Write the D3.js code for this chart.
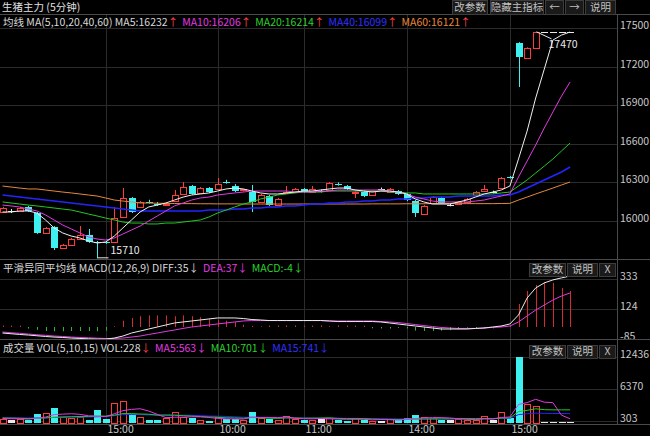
<!DOCTYPE html>
<html>
<head>
<meta charset="utf-8">
<script src="https://cdn.jsdelivr.net/npm/d3@7"></script>
<style>
  body { margin: 0; background: #000; }
  svg { display: block; font-family: "Noto Sans CJK SC", "Noto Sans", sans-serif; }
</style>
</head>
<body>
<svg id="chart" width="650" height="436"></svg>
<script>
// 5-minute bars, price in yuan/ton
const opens = [16070,16078,16078,16109,16062,15907,15953,15790,15814,15860,
  15891,15840,15835,15837,16031,16179,16109,16150,16134,16130,
  16155,16210,16272,16218,16256,16249,16305,16272,16238,16225,
  16148,16194,16124,16215,16225,16249,16225,16233,16241,16290,
  16272,16222,16225,16202,16249,16225,16233,16210,16155,16054,
  16140,16179,16124,16132,16148,16202,16233,16225,16256,16345,
  17383,17266,17344,17470,17470,17470,17470];
const highs = [16110,16093,16109,16117,16070,15953,15960,15822,15868,15961,
  15938,15845,15845,16109,16256,16186,16155,16165,16148,16140,
  16241,16303,16280,16264,16264,16334,16320,16287,16250,16280,
  16210,16202,16179,16272,16256,16256,16272,16245,16303,16300,
  16280,16230,16233,16241,16260,16256,16241,16218,16163,16124,
  16194,16186,16135,16155,16179,16233,16280,16236,16342,16350,
  17390,17350,17470,17470,17470,17470,17470];
const lows = [16062,16062,16070,16070,15900,15900,15775,15783,15806,15855,
  15830,15710,15822,15830,16025,16062,16101,16135,16117,16124,
  16150,16205,16205,16212,16218,16241,16290,16225,16230,16070,
  16140,16117,16117,16210,16218,16218,16218,16222,16233,16275,
  16241,16179,16186,16194,16238,16218,16202,16155,16031,16047,
  16132,16132,16114,16124,16140,16194,16225,16214,16249,16330,
  17041,17260,17340,17470,17470,17470,17470];
const closes = [16101,16078,16101,16078,15907,15946,15790,15814,15860,15891,
  15837,15835,15828,16023,16179,16070,16148,16148,16130,16134,
  16202,16264,16210,16256,16225,16287,16300,16233,16245,16148,
  16202,16124,16171,16225,16249,16225,16249,16233,16295,16287,
  16249,16226,16194,16233,16249,16249,16210,16163,16062,16117,
  16186,16140,16124,16148,16171,16225,16245,16225,16334,16335,
  17274,17344,17470,17470,17470,17470,17470];

const ma5 = [16070,16070,16078,16078,16062,16008,15946,15907,15883,15868,
  15845,15829,15837,15883,15946,16008,16070,16109,16124,16140,
  16163,16186,16202,16210,16218,16233,16249,16256,16249,16233,
  16218,16210,16210,16218,16225,16233,16233,16241,16249,16256,
  16256,16241,16233,16225,16233,16233,16225,16210,16171,16148,
  16132,16132,16132,16148,16163,16186,16210,16225,16241,16272,
  16482,16699,16956,17181,17406,17445,17469];
const ma10 = [16124,16117,16109,16093,16078,16047,16008,15969,15938,15907,
  15876,15860,15852,15868,15899,15930,15961,16000,16039,16078,
  16117,16140,16163,16179,16186,16202,16210,16218,16225,16233,
  16233,16233,16233,16233,16225,16225,16225,16233,16233,16241,
  16241,16241,16241,16241,16241,16233,16225,16210,16186,16171,
  16155,16148,16148,16148,16148,16155,16163,16179,16194,16210,
  16342,16466,16591,16723,16847,16971,17080];
const ma20 = [16148,16140,16132,16124,16117,16109,16101,16093,16085,16070,
  16054,16039,16023,16008,15992,15984,15984,15977,15977,15984,
  15984,15992,16000,16008,16031,16062,16085,16109,16132,16148,
  16171,16186,16202,16210,16218,16225,16225,16225,16233,16233,
  16233,16233,16233,16233,16233,16225,16225,16218,16218,16210,
  16210,16210,16210,16210,16210,16210,16210,16210,16218,16225,
  16272,16319,16373,16427,16482,16544,16606];
const ma40 = [16202,16194,16186,16179,16171,16163,16155,16148,16140,16132,
  16124,16117,16109,16101,16093,16085,16078,16078,16078,16078,
  16078,16078,16078,16078,16085,16085,16085,16093,16093,16101,
  16101,16109,16109,16117,16117,16124,16132,16132,16140,16140,
  16148,16148,16155,16155,16163,16163,16171,16171,16179,16179,
  16186,16186,16186,16194,16194,16194,16194,16194,16202,16202,
  16225,16256,16287,16319,16350,16381,16420];
const ma60 = [16272,16264,16256,16249,16249,16241,16233,16225,16218,16210,
  16202,16194,16179,16163,16155,16148,16140,16140,16138,16137,
  16136,16135,16135,16134,16134,16133,16133,16133,16132,16132,
  16132,16132,16132,16132,16132,16132,16132,16132,16132,16132,
  16132,16132,16132,16133,16133,16133,16133,16134,16134,16134,
  16135,16135,16135,16135,16135,16135,16135,16135,16136,16137,
  16163,16186,16210,16233,16256,16280,16303];

const diff = [-42,-47,-52,-56,-61,-66,-70,-73,-77,-80,
  -82,-84,-84,-77,-63,-42,-28,-14,0,14,
  28,35,42,49,56,63,63,63,59,52,
  49,45,45,45,45,45,45,45,42,38,
  38,38,38,38,35,28,21,14,7,0,
  -7,-14,-14,-14,-14,-10,-7,0,7,21,
  84,202,272,307,328,342,355];
const dea = [-35,-40,-44,-49,-54,-58,-63,-66,-70,-73,
  -75,-78,-80,-80,-77,-70,-63,-52,-42,-31,
  -21,-10,0,7,14,21,28,35,42,45,
  45,45,45,45,45,45,45,45,42,42,
  42,42,42,42,38,35,31,24,17,10,
  3,-3,-7,-10,-10,-10,-7,-3,0,7,
  35,77,118,153,188,216,237];
const macd = [3,3,2,-4,-20,-28,-30,-30,-28,-28,
  -28,-30,-25,5,44,63,75,81,81,81,
  75,81,75,68,58,51,44,35,16,8,
  5,3,3,4,4,3,3,4,5,4,
  3,2,2,-2,-3,-4,-6,-10,-25,-28,
  -28,-25,-22,-18,-5,-4,-3,-2,3,8,
  160,251,293,314,307,272,251];

const vols = [680,490,680,490,1660,1860,2840,1080,880,1080,
  490,2450,680,3620,4010,1660,1080,490,490,880,
  2050,1080,880,490,300,1080,680,680,490,2050,
  880,680,490,1270,680,490,490,880,880,490,
  300,880,490,300,350,685,490,880,1330,1080,
  880,490,490,685,490,490,1270,490,2050,880,
  12436,3480,3170,100,100,100,60];
const volMa5 = [750,720,700,650,800,1030,1500,1590,1660,1550,
  1270,1200,1120,1660,2250,2490,2610,2170,1550,920,
  1000,1000,1080,1080,960,770,690,650,650,1000,
  960,960,920,1080,800,720,690,760,690,650,
  610,610,610,490,560,520,460,560,750,870,
  930,930,860,720,610,560,690,690,960,1040,
  3420,3780,4400,3860,3770,1390,700];
const volMa10 = [850,830,800,760,800,870,1000,1060,1100,1140,
  1150,1230,1210,1400,1690,1690,1610,1570,1400,1420,
  1380,1290,1220,1120,1050,1010,890,870,820,940,
  870,830,790,880,850,810,830,850,890,770,
  730,750,730,660,620,590,590,590,630,650,
  660,680,700,720,740,720,740,700,840,870,
  2070,2300,2600,2440,2400,2400,2400];
const volMa15 = [900,880,860,840,850,880,960,1000,1000,1020,
  1030,1100,1120,1300,1480,1520,1480,1430,1400,1370,
  1420,1380,1370,1300,1220,1200,1150,1080,1000,1000,
  980,920,880,880,860,860,820,800,830,820,
  780,780,760,700,680,680,650,660,680,690,
  700,680,670,680,680,680,720,700,780,790,
  1500,1650,1780,1740,1720,1700,1680];

const priceTicks = [17500, 17200, 16900, 16600, 16300, 16000];
const macdTicks = [333, 124, -85];
const volTicks = [12436, 6370, 303];
const timeIdx = [12, 25, 35, 47, 59];
const timeLabels = ["15:00", "10:00", "11:00", "14:00", "15:00"];
const lowMark = { i: 11, v: 15710 };
const highMark = { i: 62, v: 17470 };

const RED = "#ff3c3c", CYAN = "#3ff0f0", WHITE = "#e8e8e8";
const GRID = "#2b2b2b", SEP = "#4a4a4a", TXT = "#c8c8c8";
const plotRight = 617;

const svg = d3.select("#chart");
svg.append("rect").attr("width", 650).attr("height", 436).attr("fill", "#000");

const x = d3.scaleLinear().domain([0, 66]).range([2.5, 570.1]);
const yPrice = d3.scaleLinear().domain([16000, 17500]).range([221, 28]);
const yMacd = d3.scaleLinear().domain([0, 333]).range([327, 279.2]);
const yVol = d3.scaleLinear().domain([0, 12436]).range([422.5, 357]);

const panels = [
  { top: 15, bottom: 259 },
  { top: 260, bottom: 339 },
  { top: 340, bottom: 424 }
];

// clip paths per panel
const defs = svg.append("defs");
panels.forEach((p, k) => {
  defs.append("clipPath").attr("id", "clip" + k)
    .append("rect").attr("x", 0).attr("y", p.top).attr("width", plotRight).attr("height", p.bottom - p.top);
});

// vertical grid lines + time labels
timeIdx.forEach((idx, k) => {
  const gx = Math.round(x(idx)) + 0.5;
  svg.append("line")
    .attr("x1", gx).attr("x2", gx).attr("y1", 15).attr("y2", 424)
    .attr("stroke", GRID);
  svg.append("text")
    .attr("x", gx + 1).attr("y", 433)
    .attr("fill", TXT).attr("font-size", 10.5)
    .text(timeLabels[k]);
});

function hGrid(scale, ticks) {
  ticks.forEach((t) => {
    const gy = Math.round(scale(t)) + 0.5;
    svg.append("line")
      .attr("x1", 0).attr("x2", plotRight).attr("y1", gy).attr("y2", gy)
      .attr("stroke", GRID);
    svg.append("text")
      .attr("x", 620).attr("y", gy + 0.5)
      .attr("fill", TXT).attr("font-size", 10.5)
      .text(t);
  });
}
hGrid(yPrice, priceTicks);
hGrid(yMacd, macdTicks);
hGrid(yVol, volTicks);

// separators
[14.5, 259.5, 339.5, 424.5].forEach((sy) => {
  svg.append("line").attr("x1", 0).attr("x2", 650).attr("y1", sy).attr("y2", sy)
    .attr("stroke", SEP).attr("stroke-width", 1.2);
});
svg.append("line").attr("x1", plotRight + 0.5).attr("x2", plotRight + 0.5)
  .attr("y1", 15).attr("y2", 425).attr("stroke", SEP);

// ---------- candles ----------
const bars = d3.range(opens.length).map((i) => ({
  i, o: opens[i], h: highs[i], l: lows[i], c: closes[i], v: vols[i]
}));
const kind = (d) => (d.c > d.o ? "up" : d.c < d.o ? "down" : "flat");
const kColor = (d) => ({ up: RED, down: CYAN, flat: WHITE }[kind(d)]);

const gMain = svg.append("g").attr("clip-path", "url(#clip0)");

bars.forEach((d) => {
  const cx = Math.round(x(d.i));
  const col = kColor(d);
  gMain.append("line")
    .attr("x1", cx + 0.5).attr("x2", cx + 0.5)
    .attr("y1", yPrice(d.h)).attr("y2", yPrice(d.l))
    .attr("stroke", col);
  const yTop = Math.round(yPrice(Math.max(d.o, d.c)));
  const yBot = Math.round(yPrice(Math.min(d.o, d.c)));
  if (kind(d) === "flat") {
    gMain.append("line")
      .attr("x1", cx - 3).attr("x2", cx + 4)
      .attr("y1", yTop + 0.5).attr("y2", yTop + 0.5)
      .attr("stroke", col);
  } else if (kind(d) === "up") {
    gMain.append("rect")
      .attr("x", cx - 2.5).attr("y", yTop + 0.5)
      .attr("width", 6).attr("height", Math.max(1, yBot - yTop))
      .attr("fill", "#000").attr("stroke", col);
  } else {
    gMain.append("rect")
      .attr("x", cx - 3).attr("y", yTop)
      .attr("width", 7).attr("height", Math.max(1, yBot - yTop))
      .attr("fill", col);
  }
});

const priceLine = d3.line().x((d, i) => x(i)).y((d) => yPrice(d));
[[ma60, "#e6883c", 1], [ma40, "#2424ff", 1.6], [ma20, "#22c822", 1],
 [ma10, "#e03ce0", 1], [ma5, "#f0f0f0", 1]].forEach(([s, c, w]) => {
  gMain.append("path").datum(s)
    .attr("fill", "none").attr("stroke", c).attr("stroke-width", w)
    .attr("d", priceLine);
});

// low / high markers
{
  const lx = Math.round(x(lowMark.i)) + 0.5, ly = yPrice(lowMark.v) - 0.5;
  svg.append("line").attr("x1", lx).attr("x2", lx + 11).attr("y1", ly).attr("y2", ly)
    .attr("stroke", WHITE);
  svg.append("text").attr("x", lx + 13).attr("y", ly - 4)
    .attr("fill", WHITE).attr("font-size", 10.5).text(lowMark.v);

  const hx = Math.round(x(highMark.i)) + 0.5, hy = yPrice(highMark.v);
  svg.append("line").attr("x1", hx).attr("x2", hx + 15).attr("y1", hy).attr("y2", hy + 7)
    .attr("stroke", WHITE);
  svg.append("text").attr("x", hx + 12).attr("y", hy + 16)
    .attr("fill", WHITE).attr("font-size", 10.5).text(highMark.v);
}

// ---------- MACD ----------
const gMacd = svg.append("g").attr("clip-path", "url(#clip1)");
macd.forEach((v, i) => {
  const cx = Math.round(x(i)) + 0.5;
  gMacd.append("line")
    .attr("x1", cx).attr("x2", cx)
    .attr("y1", yMacd(0)).attr("y2", yMacd(v) + (Math.abs(v) < 5 ? (v >= 0 ? -1 : 1) : 0))
    .attr("stroke", v >= 0 ? "#d42c2c" : "#2fb52f");
});
const macdLine = d3.line().x((d, i) => x(i)).y((d) => yMacd(d));
gMacd.append("path").datum(dea).attr("fill", "none").attr("stroke", "#e03ce0").attr("d", macdLine);
gMacd.append("path").datum(diff).attr("fill", "none").attr("stroke", "#ececec").attr("d", macdLine);

// ---------- volume ----------
const gVol = svg.append("g").attr("clip-path", "url(#clip2)");
bars.forEach((d) => {
  const cx = Math.round(x(d.i));
  const col = kColor(d);
  const yTop = Math.round(yVol(d.v));
  const yBot = Math.round(yVol(0));
  const h = Math.max(1, yBot - yTop);
  if (kind(d) === "up") {
    gVol.append("rect")
      .attr("x", cx - 2.5).attr("y", yBot - h + 0.5)
      .attr("width", 6).attr("height", h)
      .attr("fill", "#000").attr("stroke", col);
  } else {
    gVol.append("rect")
      .attr("x", cx - 3).attr("y", yBot - h)
      .attr("width", 7).attr("height", h)
      .attr("fill", col);
  }
});
const volLine = d3.line().x((d, i) => x(i)).y((d) => yVol(d));
[[volMa15, "#2424ff"], [volMa10, "#22c822"], [volMa5, "#e03ce0"]].forEach(([s, c]) => {
  gVol.append("path").datum(s).attr("fill", "none").attr("stroke", c).attr("d", volLine);
});

// ---------- header texts ----------
function header(y, parts) {
  let cx = 3;
  parts.forEach(([label, color, arrow, arrowColor]) => {
    const t = svg.append("text")
      .attr("x", cx).attr("y", y)
      .attr("fill", color).attr("font-size", 10.5)
      .text(label);
    t.append("tspan").attr("fill", arrowColor).text(arrow);
    cx += t.node().getComputedTextLength() + 4;
  });
}

svg.append("text").attr("x", 2).attr("y", 11)
  .attr("fill", "#e0e0e0").attr("font-size", 10.5)
  .text("生猪主力 (5分钟)");

header(26, [
  ["均线 MA(5,10,20,40,60) MA5:16232", "#d8d8d8", "↑", "#ff4040"],
  ["MA10:16206", "#e03ce0", "↑", "#ff4040"],
  ["MA20:16214", "#2ed02e", "↑", "#ff4040"],
  ["MA40:16099", "#3030ff", "↑", "#ff4040"],
  ["MA60:16121", "#e8883a", "↑", "#ff4040"]
]);
header(272, [
  ["平滑异同平均线 MACD(12,26,9) DIFF:35", "#d8d8d8", "↓", "#d8d8d8"],
  ["DEA:37", "#e03ce0", "↓", "#e03ce0"],
  ["MACD:-4", "#2ed02e", "↓", "#2ed02e"]
]);
header(352, [
  ["成交量 VOL(5,10,15) VOL:228", "#d8d8d8", "↓", "#ff4040"],
  ["MA5:563", "#e03ce0", "↓", "#e03ce0"],
  ["MA10:701", "#2ed02e", "↓", "#2ed02e"],
  ["MA15:741", "#3030ff", "↓", "#3030ff"]
]);

// ---------- buttons ----------
function button(x0, x1, y0, y1, label) {
  svg.append("rect")
    .attr("x", x0 + 0.5).attr("y", y0 + 0.5)
    .attr("width", x1 - x0).attr("height", y1 - y0)
    .attr("fill", "#1a1a1a").attr("stroke", "#3c3c3c");
  svg.append("text")
    .attr("x", (x0 + x1) / 2 + 0.5).attr("y", y1 - 3)
    .attr("text-anchor", "middle")
    .attr("fill", "#c0c0c0").attr("font-size", 10.5)
    .text(label);
}
button(452, 487, 0, 14, "改参数");
button(490, 543, 0, 14, "隐藏主指标");
button(545, 563, 0, 14, "←");
button(565, 583, 0, 14, "→");
button(585, 615, 0, 14, "说明");
[263, 345].forEach((by) => {
  button(529, 565, by, by + 13, "改参数");
  button(567, 597, by, by + 13, "说明");
  button(599, 615, by, by + 13, "X");
});
</script>
</body>
</html>
